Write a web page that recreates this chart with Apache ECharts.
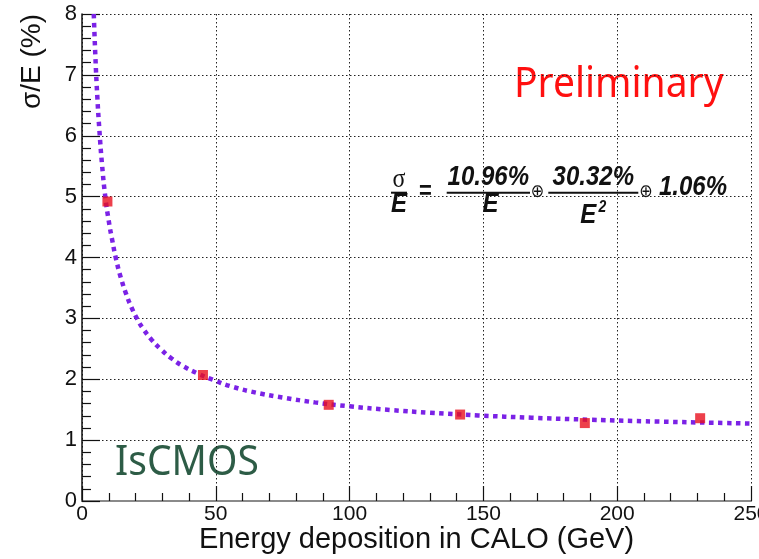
<!DOCTYPE html>
<html>
<head>
<meta charset="utf-8">
<script src="https://cdn.jsdelivr.net/npm/echarts@6/dist/echarts.min.js"></script>
<style>
  html, body { margin: 0; padding: 0; background: #ffffff; }
  #chart { width: 759px; height: 559px; }
</style>
</head>
<body>
<div id="chart"></div>
<script>
// Measured energy resolution points
const energy = [9.5, 45.2, 92.2, 141.3, 187.9, 231.0];
const resolution = [4.92, 2.07, 1.58, 1.42, 1.28, 1.36];

// Fitted resolution curve, sampled along the energy axis
const fitEnergy = [4.4, 5.0, 5.7, 6.5, 7.5, 8.7, 10, 11.4, 12.8, 14.5, 16.5, 18.5, 20.5, 23, 26, 29.5, 33.5, 38, 43, 49, 56, 65, 75, 87, 100, 115, 130, 148, 168, 190, 215, 250];
const fitResolution = [8.0, 7.30, 6.66, 6.09, 5.52, 5.00, 4.60, 4.26, 3.96, 3.67, 3.40, 3.18, 3.00, 2.82, 2.65, 2.49, 2.34, 2.21, 2.10, 1.99, 1.88, 1.78, 1.70, 1.62, 1.555, 1.496, 1.45, 1.406, 1.368, 1.335, 1.305, 1.273];

// Axis ranges and titles
const xRange = [0, 250];
const yRange = [0, 8];
const xTitle = 'Energy deposition in CALO (GeV)';
const yTitle = 'σ/E (%)';

const SANS = '"Liberation Sans", Arial, Helvetica, sans-serif';
const formulaFont = 'italic bold 24px ' + SANS;
const STRETCH = 1.15;   // formula glyphs are drawn slightly tall

const chart = echarts.init(document.getElementById('chart'), null, { renderer: 'canvas' });

const dotted = { color: '#222', width: 1, type: [1.5, 2.5] };

// helper for a formula glyph anchored at its centre
function ftext(text, x, y, font) {
  return {
    type: 'text', x: x, y: y, scaleY: STRETCH,
    style: { text: text, x: 0, y: 0, font: font || formulaFont, fill: '#111', textAlign: 'center', textVerticalAlign: 'middle' }
  };
}

chart.setOption({
  animation: false,
  backgroundColor: '#ffffff',
  grid: { left: 82, right: 8, top: 14, bottom: 58, containLabel: false, outerBoundsMode: 'none' },
  xAxis: [{
    type: 'value',
    min: xRange[0], max: xRange[1], interval: 50,
    name: xTitle,
    nameLocation: 'middle',
    nameGap: 24,
    nameMoveOverlap: false,
    nameTextStyle: { fontFamily: SANS, fontSize: 29, color: '#111' },
    axisLine: { show: true, onZero: false, lineStyle: { color: '#111', width: 1.5 } },
    axisTick: { show: true, inside: true, length: 15, lineStyle: { color: '#111', width: 1.2 } },
    minorTick: { show: true, splitNumber: 5, length: 8, lineStyle: { color: '#111', width: 1.2 } },
    axisLabel: { margin: 3, fontFamily: SANS, fontSize: 21, color: '#111' },
    splitLine: { show: true, lineStyle: dotted }
  }, {
    type: 'value', position: 'top',
    min: xRange[0], max: xRange[1],
    axisLine: { show: true, lineStyle: { color: '#8a8a8a', width: 2 } },
    axisTick: { show: false }, axisLabel: { show: false }, splitLine: { show: false }
  }],
  yAxis: {
    type: 'value',
    min: yRange[0], max: yRange[1], interval: 1,
    name: yTitle,
    nameLocation: 'end',
    nameRotate: 90,
    nameGap: 0,
    nameMoveOverlap: false,
    nameTextStyle: { fontFamily: SANS, fontSize: 28, color: '#111', align: 'right', verticalAlign: 'bottom', padding: [0, 0, 36, 0] },
    axisLine: { show: true, onZero: false, lineStyle: { color: '#111', width: 1.5 } },
    axisTick: { show: true, inside: true, length: 18, lineStyle: { color: '#111', width: 1.2 } },
    minorTick: { show: true, splitNumber: 5, length: 9, lineStyle: { color: '#111', width: 1.2 } },
    axisLabel: { margin: 5, fontFamily: SANS, fontSize: 22, color: '#111' },
    splitLine: { show: true, lineStyle: dotted }
  },
  series: [{
    name: 'fit',
    type: 'line',
    data: fitEnergy.map((e, i) => [e, fitResolution[i]]),
    showSymbol: false,
    smooth: 0.5,
    clip: true,
    lineStyle: { color: '#7b22e6', width: 4.5, type: [4.5, 4.5], cap: 'butt' },
    z: 3
  }, {
    name: 'data',
    type: 'scatter',
    data: energy.map((e, i) => [e, resolution[i]]),
    symbol: 'rect',
    symbolSize: 10,
    itemStyle: { color: '#e8101e' },
    z: 4
  }],
  graphic: [
    { type: 'text', x: 514, y: 85, scaleY: 1.08, style: { text: 'Preliminary', x: 0, y: 0, font: 'normal 39px "Noto Sans"', fill: '#ff1010', textAlign: 'left', textVerticalAlign: 'middle' } },
    { type: 'text', x: 115, y: 463, scaleY: 1.08, style: { text: 'IsCMOS', x: 0, y: 0, font: 'normal 39px "Noto Sans"', fill: '#2d5c46', textAlign: 'left', textVerticalAlign: 'middle' } },

    // resolution formula: sigma/E = a/E (+) b/E^2 (+) c
    ftext('σ', 399, 180, 'normal 24px "Liberation Serif"'),
    { type: 'rect', shape: { x: 391, y: 191.7, width: 16, height: 2 }, style: { fill: '#111' } },
    ftext('E', 399, 204.5),
    ftext('=', 425.5, 192, 'bold 22px ' + SANS),

    ftext('10.96%', 488.3, 177),
    { type: 'rect', shape: { x: 446.7, y: 191.7, width: 83.3, height: 2 }, style: { fill: '#111' } },
    ftext('E', 490.5, 204.5),
    ftext('⊕', 537.5, 192.5, 'normal 16px "DejaVu Sans"'),

    ftext('30.32%', 593.3, 177),
    { type: 'rect', shape: { x: 548.3, y: 191.7, width: 90, height: 2 }, style: { fill: '#111' } },
    ftext('E', 588.3, 215),
    ftext('2', 602.5, 208, 'italic bold 14px ' + SANS),
    ftext('⊕', 646, 192.5, 'normal 16px "DejaVu Sans"'),
    ftext('1.06%', 693, 187.5)
  ]
});
</script>
</body>
</html>
